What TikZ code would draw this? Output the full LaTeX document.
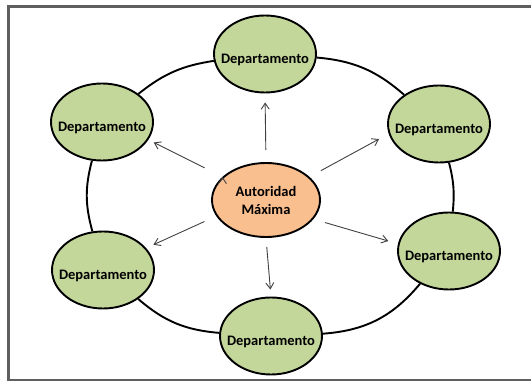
\documentclass[tikz,border=0pt]{standalone}
\usepackage{fontspec}
\setmainfont{Carlito}
\usetikzlibrary{arrows.meta,shapes.geometric}
\definecolor{deptgreen}{RGB}{196,215,155}
\definecolor{bossorange}{RGB}{250,191,143}
\definecolor{framegray}{RGB}{95,95,95}

\begin{document}
\begin{tikzpicture}[x=1pt,y=1pt,>={Straight Barb[length=6pt,width=8pt]},
  dept node/.style={ellipse,draw,line width=1.9pt,fill=deptgreen,minimum width=102pt,minimum height=77pt,inner xsep=-8pt,inner ysep=0pt,font=\bfseries\fontsize{14.5}{17}\selectfont,text height=22pt,text depth=3pt},
  boss node/.style={ellipse,draw,line width=1.9pt,fill=bossorange,minimum width=108pt,minimum height=74pt,inner sep=0pt,align=center,font=\bfseries\fontsize{14.5}{18}\selectfont}]
  \useasboundingbox (0,0) rectangle (531,383);
  \draw[framegray,line width=2.5pt] (545,376.5) -- (8.5,376.5) -- (8.5,3) -- (545,3);

  \node[boss node] (c) at (266,183) {Autoridad\\Máxima};
  \node[dept node] (d1) at (265,329) {Departamento};
  \node[dept node] (d2) at (439,259) {Departamento};
  \node[dept node] (d3) at (449,132) {Departamento};
  \node[dept node] (d4) at (271,47) {Departamento};
  \node[dept node] (d5) at (103,113) {Departamento};
  \node[dept node] (d6) at (102,261) {Departamento};

\path[line width=1.9pt]
  (d1) edge[bend left=18] (d2)
  (d2) edge[bend left=10] (d3)
  (d3) edge[bend left=23] (d4)
  (d4) edge[bend left=18] (d5)
  (d5) edge[bend left=15] (d6)
  (d6) edge[bend left=15] (d1)
;
\path[->,line width=0.9pt,draw=black!75]
  (c.north) edge[shorten <=12pt,shorten >=9pt] (d1.south)
  (c.28) edge[shorten <=13pt,shorten >=11pt] (d2.191)
  (c.338) edge[shorten <=12pt,shorten >=10pt] (d3.172)
  (c.south) edge[shorten <=9pt,shorten >=7pt] (d4.north)
  (c.198) edge[shorten <=13pt,shorten >=8pt] (d5.27)
  (c.152) edge[shorten <=20pt,shorten >=6pt] (d6.339)
;
\end{tikzpicture}
\end{document}
